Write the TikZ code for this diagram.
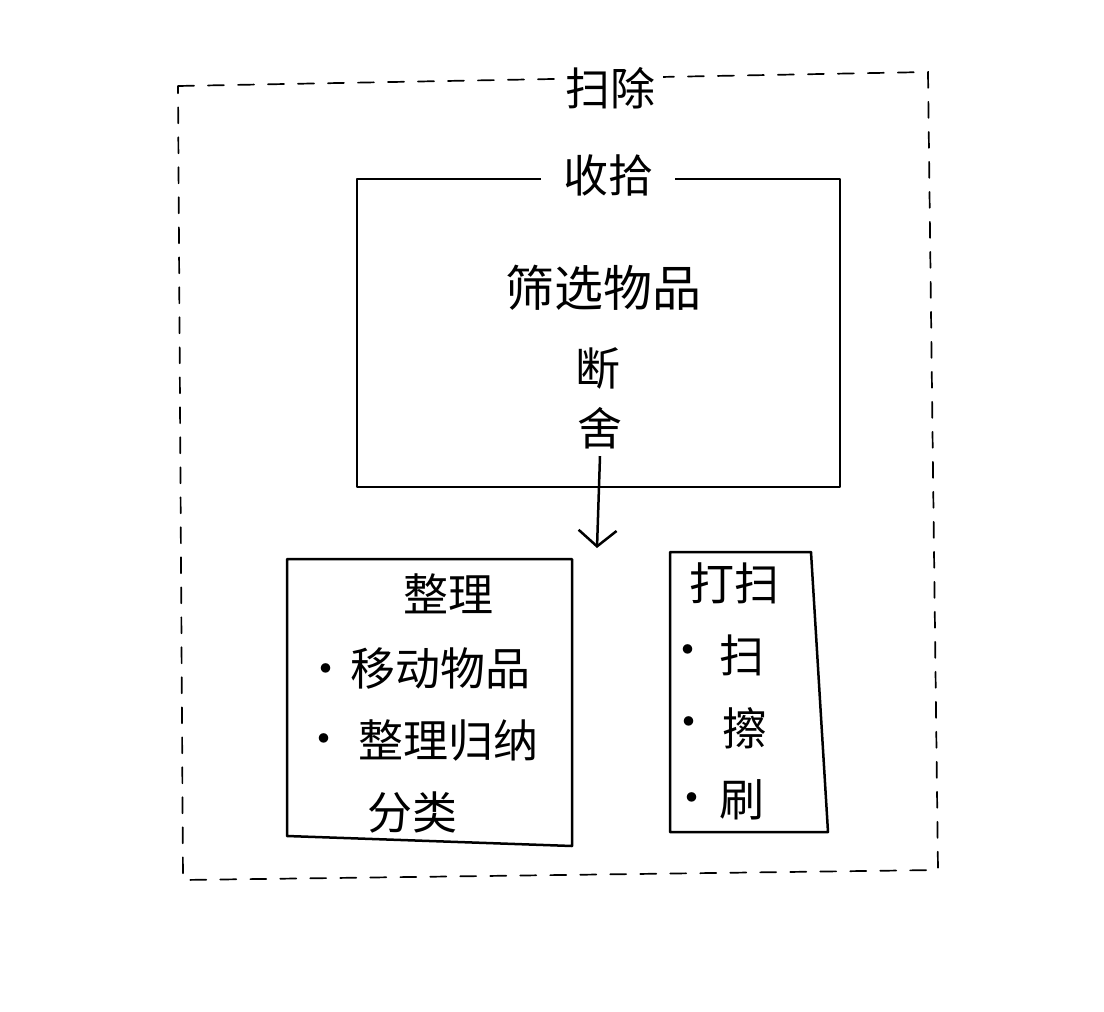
\documentclass[tikz,border=0pt]{standalone}
\usepackage{fontspec}
\setmainfont{Noto Sans CJK SC}
\usetikzlibrary{arrows.meta}
\begin{document}
\begin{tikzpicture}[x=1pt,y=-1pt,
  hand/.style={font=\fontsize{45}{52}\selectfont, inner sep=1pt},
  bullet/.style={hand},
  boxline/.style={line width=2.5pt, line join=round},
  framelabel/.style={hand, fill=white, inner ysep=2pt}]
\useasboundingbox (0,0) rectangle (1104,1012);

% outer dashed frame
\draw[line width=1.7pt, dash pattern=on 16pt off 14pt, line cap=round]
  (178,86) -- (928,72) -- (938,870) -- (183,880) -- cycle;
\node[framelabel, inner xsep=8pt] (saochu) at (610,88) {扫除};

% sorting box
\draw[boxline] (357,179) rectangle (840,487);
\node[framelabel, inner xsep=22pt] (shoushi) at (608,175) {收拾};
\node[hand, font=\fontsize{49}{56}\selectfont] (shaixuan) at (603,288) {筛选物品};
\node[hand] (duan) at (598,368) {断};
\node[hand] (she) at (600,428) {舍};
\coordinate (arrowend) at (597,548);
\draw[line width=2.5pt, -{Straight Barb[length=16pt, width=38pt, line width=2.5pt]}]
  (she.south) ++(0,6) -- (arrowend);

% tidy box
\draw[boxline] (287,559) -- (572,559) -- (572,846) -- (287,836) -- cycle;
\node[hand] (zhengli) at (448,594) {整理};
\node[bullet] (dot1) at (326,675) {·};
\node[hand] (yidong) at (440,668) {移动物品};
\node[bullet] (dot2) at (324,745) {·};
\node[hand] (guina) at (448,740) {整理归纳};
\node[hand] (fenlei) at (412,812) {分类};

% cleaning box
\draw[boxline] (670,552) -- (811,552) -- (828,832) -- (670,832) -- cycle;
\node[hand] (dasao) at (734,583) {打扫};
\node[bullet] (dot3) at (688,656) {·};
\node[hand] (sao) at (742,655) {扫};
\node[bullet] (dot4) at (689,728) {·};
\node[hand] (ca) at (745,728) {擦};
\node[bullet] (dot5) at (692,804) {·};
\node[hand] (shua) at (742,800) {刷};
\end{tikzpicture}
\end{document}
